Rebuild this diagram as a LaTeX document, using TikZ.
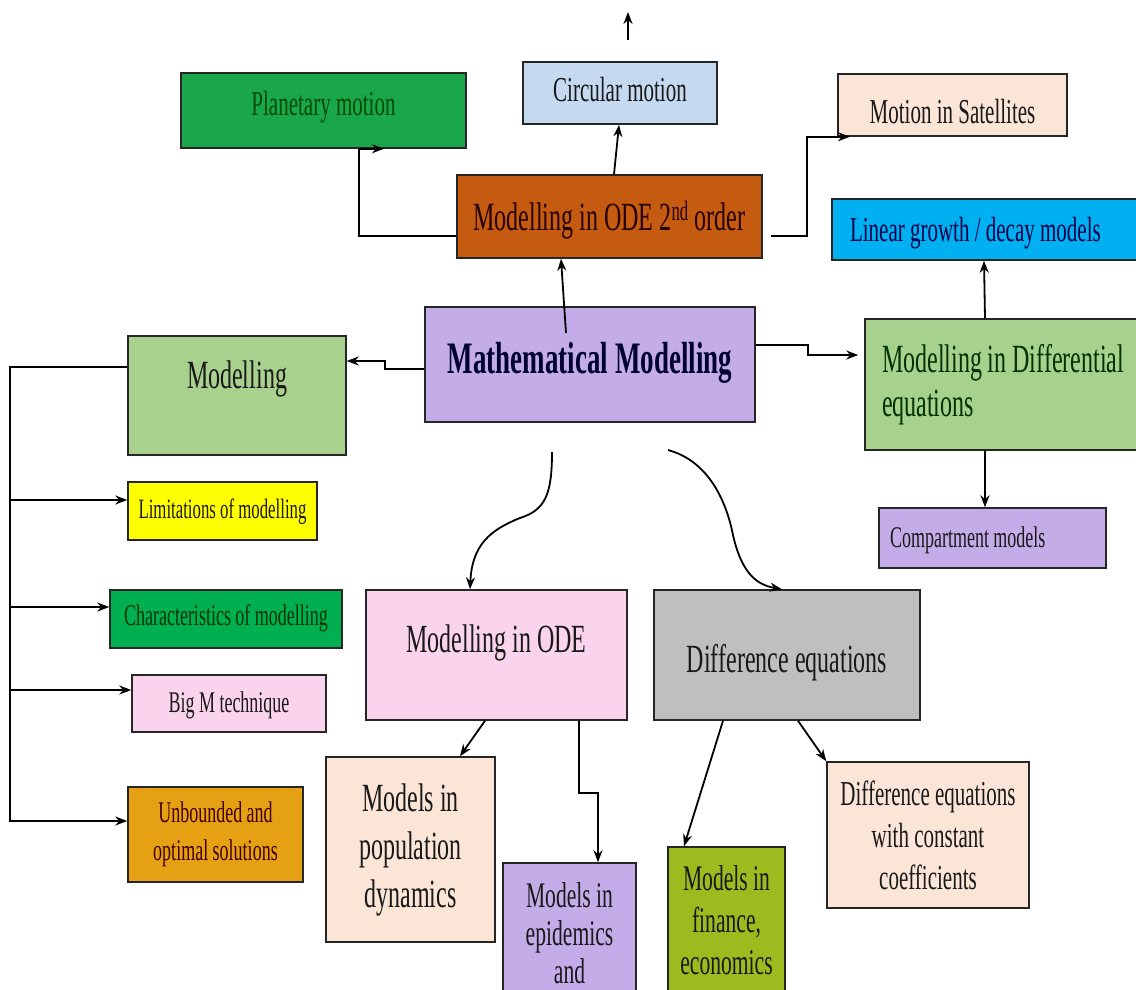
\documentclass[tikz,border=0pt]{standalone}
\usepackage{fontspec}
\setmainfont{Liberation Serif}[FakeStretch=0.6]
\usepackage{xcolor}
\usetikzlibrary{arrows.meta}

\begin{document}
\begin{tikzpicture}[x=1pt,y=-1pt,
  box/.style={draw=black!85, line width=1.5pt, inner xsep=4pt, inner ysep=0pt, align=center, text=black!90},
  arr/.style={line width=1.8pt, -{Stealth[length=12pt,width=9pt]}},
  fa/.style={font=\fontsize{28}{34}\selectfont},
  fb/.style={font=\fontsize{30}{38}\selectfont},
  fc/.style={font=\fontsize{35}{42}\selectfont},
  fd/.style={font=\fontsize{40}{48}\selectfont}]
\useasboundingbox (0,0) rectangle (1136,990);
\definecolor{c1}{RGB}{26,166,75}
\definecolor{c2}{RGB}{197,217,241}
\definecolor{c3}{RGB}{251,229,214}
\definecolor{c4}{RGB}{197,90,17}
\definecolor{c5}{RGB}{0,176,240}
\definecolor{c6}{RGB}{196,172,232}
\definecolor{c7}{RGB}{169,209,142}
\definecolor{c8}{RGB}{255,255,0}
\definecolor{c9}{RGB}{0,176,80}
\definecolor{c10}{RGB}{250,211,236}
\definecolor{c11}{RGB}{230,160,20}
\definecolor{c12}{RGB}{191,191,191}
\definecolor{c13}{RGB}{155,187,30}

% top row
\node[box, fc, fill=c1, text=green!30!black, minimum width=285pt, text height=42pt, text depth=33pt] (PM) at (323.5,110.5) {Planetary motion};
\node[box, fc, fill=c2, minimum width=194pt, text height=40pt, text depth=22pt] (CM) at (620,93) {Circular motion};
\node[box, fc, fill=c3, minimum width=229pt, text height=49pt, text depth=13pt] (MS) at (952.5,105) {Motion in Satellites};
\node[box, fd, fill=c4, text=black!85!red, minimum width=305pt, text height=55pt, text depth=28pt] (OD2) at (609.5,216.5) {Modelling in ODE 2\textsuperscript{nd} order};
\node[box, fc, fill=c5, text=blue!30!black, inner xsep=18pt, align=left, text height=42pt, text depth=19pt] (LG) at (988.5,229.5) {\makebox[277pt][l]{Linear growth / decay models}};

% middle row
\node[box, fill=c6, text=blue!20!black, font=\fontsize{45}{54}\selectfont\bfseries, minimum width=330pt, text height=66pt, text depth=49pt] (MM) at (590,364.5) {Mathematical Modelling};
\node[box, fd, fill=c7, minimum width=218pt, text height=52pt, text depth=67pt] (MO) at (237,395.5) {Modelling};
\node[box, fill=c7, text=green!20!black, font=\fontsize{40}{44}\selectfont, inner xsep=17pt, align=left, minimum height=131pt] (DE) at (1010,384.5) {\makebox[256pt][l]{Modelling in Differential}\\equations};
\node[box, fb, fill=c6, inner xsep=11pt, align=left, text height=39pt, text depth=21pt] (CP) at (992.5,538) {\makebox[205pt][l]{Compartment models}};

% left column
\node[box, fa, fill=c8, minimum width=189pt, text height=36pt, text depth=22pt] (LM) at (222.5,511) {Limitations of modelling};
\node[box, fb, fill=c9, text=green!20!black, minimum width=232pt, text height=35pt, text depth=23pt] (CH) at (226,619) {Characteristics of modelling};
\node[box, fb, fill=c10, minimum width=194pt, text height=37pt, text depth=20pt] (BM) at (229,703.5) {Big M technique};
\node[box, fb, fill=c11, text=black!75!red, minimum width=175pt, minimum height=95pt] (UO) at (215.5,834.5) {Unbounded and\\optimal solutions};

% lower rows
\node[box, fd, fill=c10, minimum width=261pt, text height=62pt, text depth=68pt] (OD) at (496.5,655) {Modelling in ODE};
\node[box, fd, fill=c12, minimum width=266pt, text height=82pt, text depth=48pt] (DF) at (787,655) {Difference equations};
\node[box, fd, fill=c3, minimum width=169pt, minimum height=185pt] (PD) at (410.5,849.5) {Models in\\population\\dynamics};
\node[box, fill=c6, font=\fontsize{36}{38}\selectfont, minimum width=133pt, minimum height=140pt] (EP) at (569.5,933) {Models in\\epidemics\\and};
\node[box, fill=c13, font=\fontsize{36}{42}\selectfont, minimum width=117pt, minimum height=146pt] (FE) at (726.5,920) {Models in\\finance,\\economics};
\node[box, fc, fill=c3, minimum width=202pt, minimum height=146pt] (DC) at (928,835) {Difference equations\\with constant\\coefficients};

\coordinate (T0) at (628,40);
\coordinate (T1) at (628,12);
\coordinate (M1) at (566,333);
\coordinate (M2) at (552,452);
\coordinate (M3) at (668,450);
\coordinate (S1) at (10,500);
\coordinate (S2) at (10,607);
\coordinate (S3) at (10,690);

\draw[arr] (T0) -- (T1);
\draw[arr] (OD2.north -| 614,0) -- (CM.south -| 619,0);
\draw[arr] (M1) -- (OD2.south -| 561,0);
\draw[arr] (OD2.west |- 0,236) -| (PM.south -| 359,0) -- (PM.south -| 384,0);
\draw[arr, shorten <=8pt] (OD2.east |- 0,236) -| (MS.south -| 807,0) -- (MS.south -| 850,0);
\draw[arr] (MM.west |- 0,369) -- (385,369) -- (385,361) -- (MO.east |- 0,361);
\draw[arr, shorten >=6pt] (MM.east |- 0,345) -- (808,345) -- (808,355) -- (DE.west |- 0,355);
\draw[arr] (DE.north -| 985,0) -- (LG.south -| 984,0);
\draw[arr] (DE.south -| 985,0) -- (CP.north -| 985,0);

% left branches
\draw[arr] (MO.west |- 0,367) -| (10,821) -- (UO.west |- 0,821);
\foreach \s/\n in {S1/LM, S2/CH, S3/BM}
  \draw[arr] (\s) -- (\n.west |- \s);

% curved ones
\draw[arr] (M2) .. controls (552,495) and (545,510) .. (520,518) .. controls (490,530) and (472,545) .. (OD.north -| 470,0);
\draw[arr] (M3) .. controls (705,460) and (725,495) .. (733,535) .. controls (742,575) and (758,585) .. (DF.north -| 782,0);

\draw[arr] (OD.south -| 485,0) -- (PD.north -| 460,0);
\draw[arr] (OD.south -| 579,0) -- (579,793) -- (598,793) -- (EP.north -| 598,0);
\draw[arr] (DF.south -| 723,0) -- (FE.north -| 684,0);
\draw[arr] (DF.south -| 798,0) -- (DC.north west);
\end{tikzpicture}
\end{document}
